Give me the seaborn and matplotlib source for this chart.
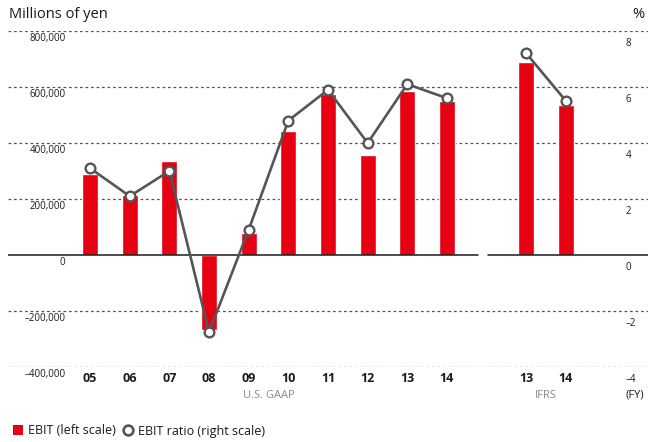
import pandas as pd
import numpy as np
import matplotlib
matplotlib.use("Agg")
import matplotlib.pyplot as plt
from matplotlib.lines import Line2D
from matplotlib.patches import Patch
import seaborn as sns

# data
years = ["05", "06", "07", "08", "09", "10", "11", "12", "13", "14", "13", "14"]
standard = ["U.S. GAAP"] * 10 + ["IFRS"] * 2
ebit = [289000, 214000, 336000, -268000, 79000, 443000, 575000, 357000,
        586000, 550000, 689000, 536000]
ebit_ratio = [3.1, 2.1, 3.0, -2.75, 0.9, 4.8, 5.9, 4.0, 6.1, 5.6, 7.2, 5.5]

left_ticks = [800000, 600000, 400000, 200000, 0, -200000, -400000]
right_ticks = [8, 6, 4, 2, 0, -2, -4]

RED = "#e60012"
GRAY = "#555555"
TXT = "#1a1a1a"

sns.set_theme(style="white")
plt.rcParams["font.family"] = ["Open Sans", "DejaVu Sans"]

# slot positions: one empty slot between the two accounting standards
pos = list(range(10)) + [11, 12]
df = pd.DataFrame({"pos": pos, "year": years, "std": standard,
                   "ebit": ebit, "ratio": ebit_ratio})

fig = plt.figure(figsize=(6.49, 4.42), dpi=100)
ax = fig.add_axes([0.0123, 0.1697, 0.9862, 0.7602])

# gridlines
for v in left_ticks:
    if v != 0:
        ax.axhline(v, color=GRAY, lw=0.9, ls=(0, (2.2, 2.2)), zorder=0)
ax.axhline(0, xmin=0, xmax=0.734, color=TXT, lw=1.1, zorder=3)
ax.axhline(0, xmin=0.75, xmax=1, color=TXT, lw=1.1, zorder=3)

sns.barplot(data=df, x="pos", y="ebit", native_scale=True, color=RED,
            saturation=1, width=0.4, ax=ax, zorder=2)
ax.set_xlim(-2.07, 14.07)
ax.set_ylim(-400000, 800000)

ax2 = ax.twinx()
sns.lineplot(data=df, x="pos", y="ratio", units="std", estimator=None,
             color=GRAY, lw=1.9, marker="o", markersize=7,
             markerfacecolor="white", markeredgecolor=GRAY,
             markeredgewidth=1.7, legend=False, ax=ax2)
ax2.set_ylim(-4, 8)
ax2.set_xlim(-2.07, 14.07)

for a in (ax, ax2):
    a.set_xticks([])
    a.set_yticks([])
    a.set_xlabel("")
    a.set_ylabel("")
    for s in a.spines.values():
        s.set_visible(False)

# left scale labels, just under each gridline
for v in left_ticks:
    lab = f"{v:,}".replace("-", "\u2013")
    ax.text(0.090, v - 8000, lab, transform=ax.get_yaxis_transform(),
            ha="right", va="top", fontsize=7, color=TXT)

# right scale labels
for v in right_ticks:
    lab = f"{v}".replace("-", "\u2013")
    ax2.text(0.965, v - 0.25, lab, transform=ax2.get_yaxis_transform(),
             ha="left", va="top", fontsize=7, color=TXT)

# category labels
for p, y in zip(pos, years):
    ax.text(p, -0.016, y, transform=ax.get_xaxis_transform(), ha="center",
            va="top", fontsize=9, fontweight="bold", color=TXT)
ax.text(4.5, -0.068, "U.S. GAAP", transform=ax.get_xaxis_transform(),
        ha="center", va="top", fontsize=8, color="#888888")
ax.text(11.5, -0.068, "IFRS", transform=ax.get_xaxis_transform(),
        ha="center", va="top", fontsize=8, color="#888888")
ax.text(0.965, -0.068, "(FY)", transform=ax.transAxes,
        ha="left", va="top", fontsize=8, color=TXT)

fig.text(9 / 649, 1 - 15 / 442, "Millions of yen", ha="left", va="center",
         fontsize=10.5, color=TXT)
fig.text(632 / 649, 1 - 15 / 442, "%", ha="left", va="center",
         fontsize=10.5, color=TXT)

handles = [
    Patch(facecolor=RED, edgecolor="none", label="EBIT (left scale)"),
    Line2D([], [], ls="none", marker="o", markersize=7,
           markerfacecolor="white", markeredgecolor=GRAY,
           markeredgewidth=1.9, label="EBIT ratio (right scale)"),
]
fig.legend(handles=handles, loc="center left", bbox_to_anchor=(0.002, 1 - 431 / 442),
           ncol=2, frameon=False, fontsize=9, handlelength=0.8,
           handleheight=0.8, handletextpad=0.4, columnspacing=0.6,
           labelcolor=TXT)

fig.savefig("out.png", dpi=100)
